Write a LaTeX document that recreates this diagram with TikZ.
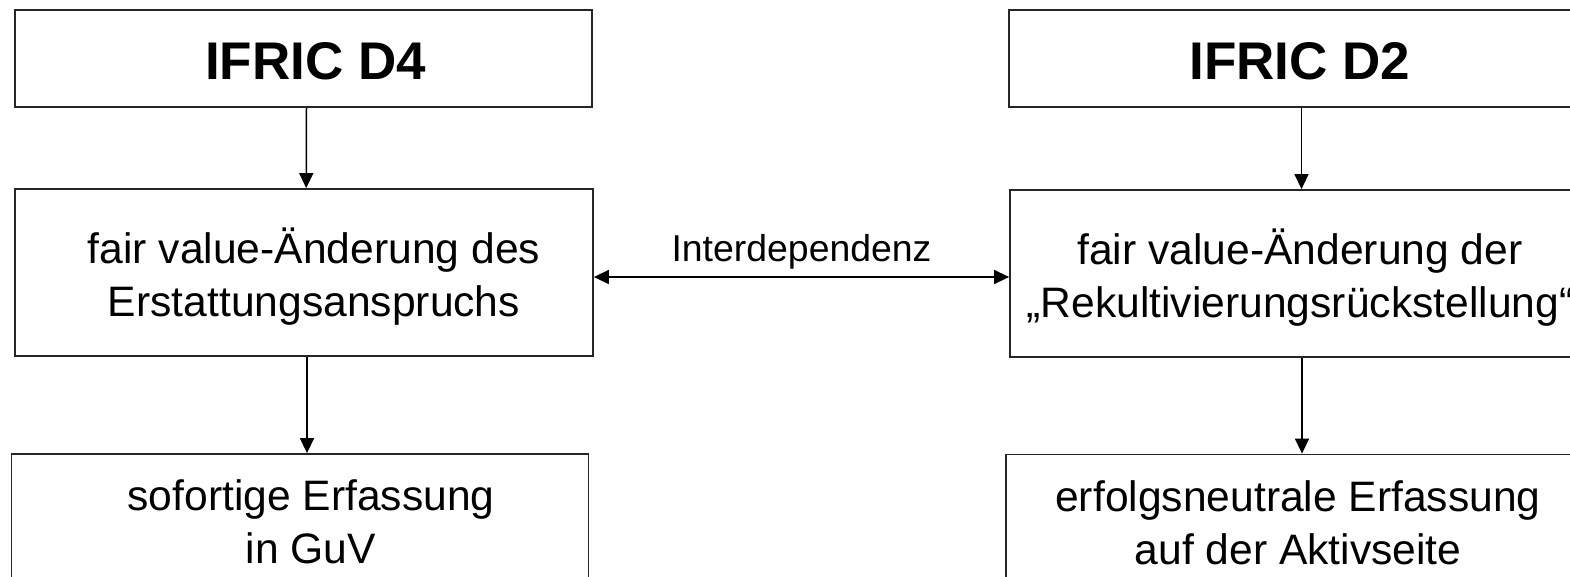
\documentclass[tikz,border=0pt]{standalone}
\usepackage{fontspec}
\setmainfont{Liberation Sans}
\usetikzlibrary{arrows.meta}
\begin{document}
\begin{tikzpicture}[x=1pt,y=-1pt,
  box/.style={draw=black!85, line width=1.8pt, rectangle, inner sep=0pt},
  txt/.style={inner sep=0pt, align=center, font=\fontsize{42.6}{53}\selectfont},
  ttl/.style={inner sep=0pt, font=\fontsize{53}{60}\selectfont\bfseries},
  arr/.style={draw=black, line width=1.5pt, -{Triangle[length=15pt,width=14pt]}},
  darr/.style={draw=black, line width=1.5pt, {Triangle[length=15pt,width=14pt]}-{Triangle[length=15pt,width=14pt]}},
  lbl/.style={font=\fontsize{37.4}{44}\selectfont, inner sep=0pt}]
\clip (0,0) rectangle (1570,576);
\useasboundingbox (0,0) rectangle (1570,576);
\fill[white] (0,0) rectangle (1570,576);
% boxes
\node[box, minimum width=577pt, minimum height=97pt] (tl) at (303.5,58.5) {};
\node[box, minimum width=585pt, minimum height=97pt] (tr) at (1301.5,58.5) {};
\node[box, minimum width=578pt, minimum height=167pt] (ml) at (304,272.5) {};
\node[box, minimum width=584pt, minimum height=167pt] (mr) at (1302,273.5) {};
\node[box, minimum width=577pt, minimum height=136pt] (bl) at (300,522) {};
\node[box, minimum width=588pt, minimum height=136pt] (br) at (1300,522.5) {};
% texts
\node[ttl] (tlt) at (315.5,61.5) {IFRIC D4};
\node[ttl] (trt) at (1300,61.5) {IFRIC D2};
\node[txt] (mlt) at (314,277) {fair value-Änderung des\\Erstattungsanspruchs};
\node[txt] (mrt) at (1300,278) {fair value-Änderung der\\„Rekultivierungsrückstellung“};
\node[txt] (blt) at (311,522) {sofortige Erfassung\\in GuV};
\node[txt] (brt) at (1298,522.5) {erfolgsneutrale Erfassung\\auf der Aktivseite};
% connectors
\draw[arr] ([xshift=3pt]tl.south) -- ([xshift=2.7pt]tl.south |- ml.north);
\draw[arr] (tr.south) -- (tr.south |- mr.north);
\draw[arr] ([xshift=3pt]ml.south) -- ([xshift=3pt]ml.south |- bl.north);
\draw[arr] (mr.south) -- (mr.south |- br.north);
\draw[darr] ([yshift=-4.5pt]ml.east) -- node[lbl, above=7pt] (int) {Interdependenz} ([yshift=-4.5pt]ml.east -| mr.west);
\end{tikzpicture}
\end{document}
